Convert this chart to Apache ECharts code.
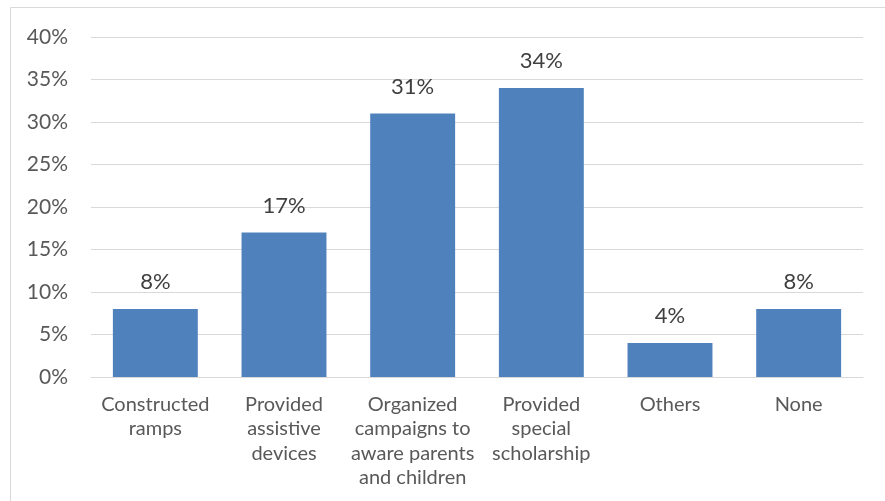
<!DOCTYPE html>
<html>
<head>
<meta charset="utf-8">
<script src="https://cdn.jsdelivr.net/npm/echarts@6/dist/echarts.min.js"></script>
<style>
  html, body { margin: 0; padding: 0; background: #ffffff; }
  #chart { width: 885px; height: 501px; }
</style>
</head>
<body>
<div id="chart"></div>
<script>
// Measures taken, share of respondents (%)
const categories = [
  'Constructed\nramps',
  'Provided\nassistive\ndevices',
  'Organized\ncampaigns to\naware parents\nand children',
  'Provided\nspecial\nscholarship',
  'Others',
  'None'
];
const values = [8, 17, 31, 34, 4, 8];
const yTicks = { min: 0, max: 40, interval: 5 };

const FONT = 'Lato, "Open Sans", sans-serif';

const chart = echarts.init(document.getElementById('chart'), null, { renderer: 'canvas' });
chart.setOption({
  animation: false,
  backgroundColor: '#ffffff',
  graphic: [{
    type: 'rect',
    shape: { x: 10.5, y: 7.5, width: 1000, height: 1000 },
    style: { fill: 'none', stroke: '#d9d9d9', lineWidth: 1 },
    silent: true
  }],
  grid: { left: 91, right: 22, top: 37, bottom: 124 },
  xAxis: {
    type: 'category',
    data: categories,
    axisTick: { show: false },
    axisLine: { lineStyle: { color: '#d9d9d9', width: 1 } },
    axisLabel: {
      interval: 0,
      color: '#595959',
      fontFamily: FONT,
      fontSize: 20,
      lineHeight: 24.5,
      margin: 15
    }
  },
  yAxis: {
    type: 'value',
    min: yTicks.min,
    max: yTicks.max,
    interval: yTicks.interval,
    axisLine: { show: false },
    axisTick: { show: false },
    splitLine: { lineStyle: { color: '#d9d9d9', width: 1 } },
    axisLabel: {
      color: '#595959',
      fontFamily: FONT,
      fontSize: 21,
      margin: 23,
      formatter: v => v + '%'
    }
  },
  series: [{
    type: 'bar',
    data: values,
    barCategoryGap: '34%',
    itemStyle: { color: '#4f81bd' },
    label: {
      show: true,
      position: 'top',
      distance: 16,
      color: '#404040',
      fontFamily: FONT,
      fontSize: 22,
      formatter: p => p.value + '%'
    }
  }]
});
</script>
</body>
</html>
